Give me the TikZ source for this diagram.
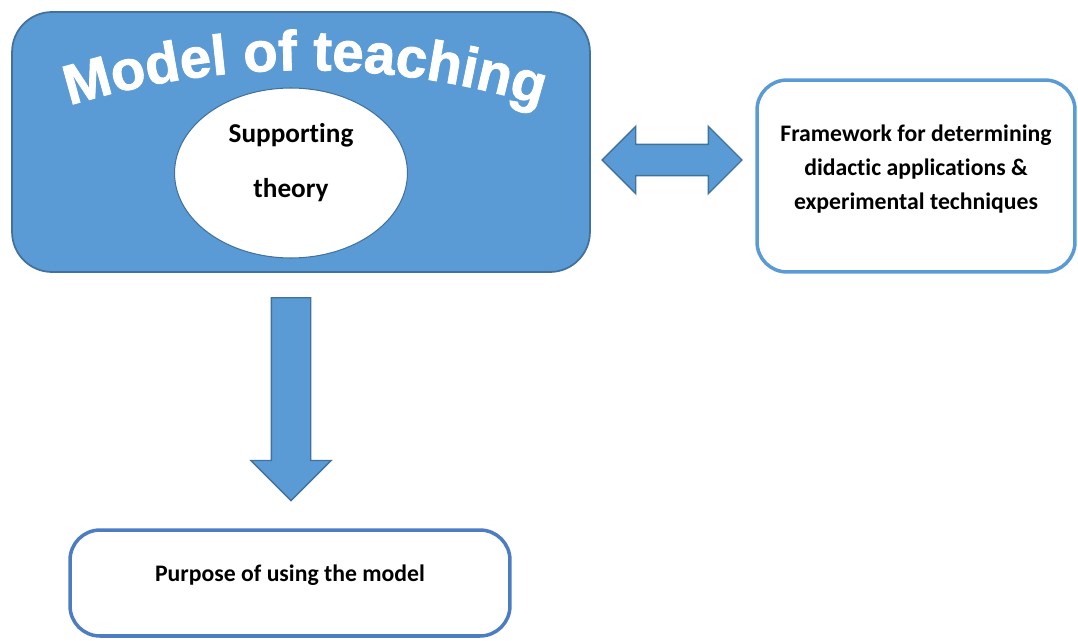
\documentclass[tikz,border=0pt]{standalone}
\usepackage{fontspec}
\setmainfont{Carlito}[Ligatures=NoCommon]
\newfontfamily\titlefont{Liberation Sans}[BoldFeatures={FakeBold=1.5}]
\usetikzlibrary{shapes.geometric,shapes.arrows,decorations.text}
\definecolor{boxblue}{RGB}{91,155,213}
\definecolor{edgeblue}{RGB}{65,113,156}
\definecolor{lineblue}{RGB}{76,125,195}

\begin{document}
\begin{tikzpicture}[x=0.02cm, y=0.02cm,
	blockarrow/.style={fill=boxblue, draw=edgeblue, line width=0.8pt},
	outbox/.style={draw=#1, line width=2pt, rounded corners=0.6cm, fill=white},
	txt/.style={font=\bfseries\fontsize{13.5}{19.4}\selectfont, align=center}]
\useasboundingbox (0,0) rectangle (1078,640);
\def\r{16cm}
% model block with the theory inside
\node[fill=boxblue, draw=edgeblue, line width=1pt, rounded corners=0.8cm,
	minimum width=11.56cm, minimum height=5.2cm] (model) at (301,498) {};
\node[ellipse, fill=white, draw=edgeblue, line width=0.6pt,
	minimum width=4.66cm, minimum height=3.4cm] (theory) at (291,467) {};
\node[font=\bfseries\fontsize{15.5}{18}\selectfont] (supp) at (291,505) {Supporting};
\node[font=\bfseries\fontsize{15.5}{18}\selectfont] (theo) at (291,450) {theory};
\path[decorate, decoration={text along path, text align=center, text color=white,
	text={|\titlefont\bfseries\fontsize{32}{32}\selectfont|Model of teaching}}]
	(305,-230) ++(110:\r) arc[start angle=110, end angle=70, radius=\r];
% framework
\node[outbox=boxblue, minimum width=6.36cm, minimum height=3.84cm] (frame) at (916,464) {};
\node[txt] (frametxt) at (916,471) {Framework for determining\\didactic applications \&\\experimental techniques};
% purpose
\node[outbox=lineblue, minimum width=8.8cm, minimum height=2.12cm] (purpose) at (290,57) {};
\node[txt] (purposetxt) at (290,65) {Purpose of using the model};
% block arrows
\node[blockarrow, double arrow, inner sep=0.3cm, double arrow head extend=0.36cm,
	minimum height=2.8cm, minimum width=1.32cm] (both) at (672,480) {};
\node[blockarrow, single arrow, shape border rotate=270, inner sep=0.38cm,
	single arrow head extend=0.41cm, minimum height=4.06cm, minimum width=1.58cm,
	anchor=tail] (down) at (291,343) {};
\end{tikzpicture}
\end{document}
